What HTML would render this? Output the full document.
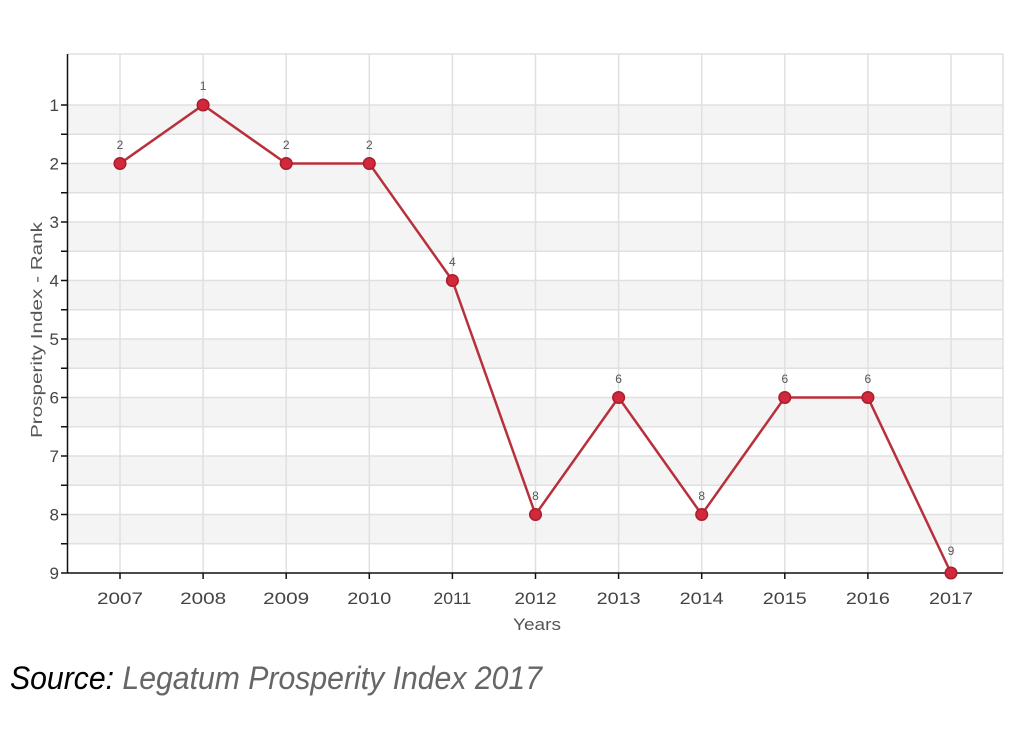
<!DOCTYPE html>
<html><head><meta charset="utf-8"><style>
html,body{margin:0;padding:0;background:#fff;}
svg{display:block;}
</style></head><body>
<svg width="1028" height="729" viewBox="0 0 1028 729" xmlns="http://www.w3.org/2000/svg" font-family="Liberation Sans, sans-serif">
<rect width="1028" height="729" fill="#fff"/>
<!-- bands -->
<g fill="#f4f4f4">
<rect x="68" y="105" width="935" height="29.25"/>
<rect x="68" y="163.5" width="935" height="29.25"/>
<rect x="68" y="222" width="935" height="29.25"/>
<rect x="68" y="280.5" width="935" height="29.25"/>
<rect x="68" y="339" width="935" height="29.25"/>
<rect x="68" y="397.5" width="935" height="29.25"/>
<rect x="68" y="456" width="935" height="29.25"/>
<rect x="68" y="514.5" width="935" height="29.25"/>
</g>
<!-- horizontal grid -->
<g stroke="#e0e0e0" stroke-width="1.5">
<line x1="68" y1="54" x2="1003" y2="54"/>
<line x1="68" y1="105" x2="1003" y2="105"/>
<line x1="68" y1="134.25" x2="1003" y2="134.25"/>
<line x1="68" y1="163.5" x2="1003" y2="163.5"/>
<line x1="68" y1="192.75" x2="1003" y2="192.75"/>
<line x1="68" y1="222" x2="1003" y2="222"/>
<line x1="68" y1="251.25" x2="1003" y2="251.25"/>
<line x1="68" y1="280.5" x2="1003" y2="280.5"/>
<line x1="68" y1="309.75" x2="1003" y2="309.75"/>
<line x1="68" y1="339" x2="1003" y2="339"/>
<line x1="68" y1="368.25" x2="1003" y2="368.25"/>
<line x1="68" y1="397.5" x2="1003" y2="397.5"/>
<line x1="68" y1="426.75" x2="1003" y2="426.75"/>
<line x1="68" y1="456" x2="1003" y2="456"/>
<line x1="68" y1="485.25" x2="1003" y2="485.25"/>
<line x1="68" y1="514.5" x2="1003" y2="514.5"/>
<line x1="68" y1="543.75" x2="1003" y2="543.75"/>
</g>
<!-- vertical grid -->
<g stroke="#e0e0e0" stroke-width="1.5">
<line x1="120" y1="54" x2="120" y2="573"/>
<line x1="203.1" y1="54" x2="203.1" y2="573"/>
<line x1="286.2" y1="54" x2="286.2" y2="573"/>
<line x1="369.3" y1="54" x2="369.3" y2="573"/>
<line x1="452.4" y1="54" x2="452.4" y2="573"/>
<line x1="535.5" y1="54" x2="535.5" y2="573"/>
<line x1="618.6" y1="54" x2="618.6" y2="573"/>
<line x1="701.7" y1="54" x2="701.7" y2="573"/>
<line x1="784.8" y1="54" x2="784.8" y2="573"/>
<line x1="867.9" y1="54" x2="867.9" y2="573"/>
<line x1="951" y1="54" x2="951" y2="573"/>
<line x1="1003" y1="54" x2="1003" y2="573"/>
</g>
<!-- axes -->
<g stroke="#111" stroke-width="1.5">
<line x1="67.5" y1="54" x2="67.5" y2="573"/>
<line x1="67" y1="573" x2="1003" y2="573"/>
<line x1="61" y1="105" x2="67" y2="105"/>
<line x1="61" y1="134.25" x2="67" y2="134.25"/>
<line x1="61" y1="163.5" x2="67" y2="163.5"/>
<line x1="61" y1="192.75" x2="67" y2="192.75"/>
<line x1="61" y1="222" x2="67" y2="222"/>
<line x1="61" y1="251.25" x2="67" y2="251.25"/>
<line x1="61" y1="280.5" x2="67" y2="280.5"/>
<line x1="61" y1="309.75" x2="67" y2="309.75"/>
<line x1="61" y1="339" x2="67" y2="339"/>
<line x1="61" y1="368.25" x2="67" y2="368.25"/>
<line x1="61" y1="397.5" x2="67" y2="397.5"/>
<line x1="61" y1="426.75" x2="67" y2="426.75"/>
<line x1="61" y1="456" x2="67" y2="456"/>
<line x1="61" y1="485.25" x2="67" y2="485.25"/>
<line x1="61" y1="514.5" x2="67" y2="514.5"/>
<line x1="61" y1="543.75" x2="67" y2="543.75"/>
<line x1="61" y1="573" x2="67" y2="573"/>
<line x1="120" y1="573" x2="120" y2="579"/>
<line x1="203.1" y1="573" x2="203.1" y2="579"/>
<line x1="286.2" y1="573" x2="286.2" y2="579"/>
<line x1="369.3" y1="573" x2="369.3" y2="579"/>
<line x1="452.4" y1="573" x2="452.4" y2="579"/>
<line x1="535.5" y1="573" x2="535.5" y2="579"/>
<line x1="618.6" y1="573" x2="618.6" y2="579"/>
<line x1="701.7" y1="573" x2="701.7" y2="579"/>
<line x1="784.8" y1="573" x2="784.8" y2="579"/>
<line x1="867.9" y1="573" x2="867.9" y2="579"/>
<line x1="951" y1="573" x2="951" y2="579"/>
</g>
<!-- y labels -->
<g font-size="17" fill="#444" text-anchor="end">
<text x="59" y="111">1</text>
<text x="59" y="169.5">2</text>
<text x="59" y="228">3</text>
<text x="59" y="286.5">4</text>
<text x="59" y="345">5</text>
<text x="59" y="403.5">6</text>
<text x="59" y="462">7</text>
<text x="59" y="520.5">8</text>
<text x="59" y="579">9</text>
</g>
<text transform="translate(42,330) rotate(-90)" font-size="16" fill="#555" text-anchor="middle" textLength="216" lengthAdjust="spacingAndGlyphs">Prosperity Index - Rank</text>
<!-- x labels -->
<g font-size="17" fill="#444" text-anchor="middle">
<text x="120" y="604" textLength="46" lengthAdjust="spacingAndGlyphs">2007</text>
<text x="203.1" y="604" textLength="46" lengthAdjust="spacingAndGlyphs">2008</text>
<text x="286.2" y="604" textLength="46" lengthAdjust="spacingAndGlyphs">2009</text>
<text x="369.3" y="604" textLength="44" lengthAdjust="spacingAndGlyphs">2010</text>
<text x="452.4" y="604" textLength="38" lengthAdjust="spacingAndGlyphs">2011</text>
<text x="535.5" y="604" textLength="42" lengthAdjust="spacingAndGlyphs">2012</text>
<text x="618.6" y="604" textLength="44" lengthAdjust="spacingAndGlyphs">2013</text>
<text x="701.7" y="604" textLength="44" lengthAdjust="spacingAndGlyphs">2014</text>
<text x="784.8" y="604" textLength="44" lengthAdjust="spacingAndGlyphs">2015</text>
<text x="867.9" y="604" textLength="44" lengthAdjust="spacingAndGlyphs">2016</text>
<text x="951" y="604" textLength="44" lengthAdjust="spacingAndGlyphs">2017</text>
</g>
<text x="537" y="630" font-size="17" fill="#555" text-anchor="middle" textLength="48" lengthAdjust="spacingAndGlyphs">Years</text>
<!-- series -->
<polyline fill="none" stroke="#b8303c" stroke-width="2.5" stroke-linejoin="round"
points="120,163.5 203.1,105 286.2,163.5 369.3,163.5 452.4,280.5 535.5,514.5 618.6,397.5 701.7,514.5 784.8,397.5 867.9,397.5 951,573"/>
<g fill="#d2283c" stroke="#a81f2c" stroke-width="1.5">
<circle cx="120" cy="163.5" r="5.8"/>
<circle cx="203.1" cy="105" r="5.8"/>
<circle cx="286.2" cy="163.5" r="5.8"/>
<circle cx="369.3" cy="163.5" r="5.8"/>
<circle cx="452.4" cy="280.5" r="5.8"/>
<circle cx="535.5" cy="514.5" r="5.8"/>
<circle cx="618.6" cy="397.5" r="5.8"/>
<circle cx="701.7" cy="514.5" r="5.8"/>
<circle cx="784.8" cy="397.5" r="5.8"/>
<circle cx="867.9" cy="397.5" r="5.8"/>
<circle cx="951" cy="573" r="5.8"/>
</g>
<!-- data labels -->
<g font-size="12" fill="#555" text-anchor="middle">
<text x="120" y="149">2</text>
<text x="203.1" y="90">1</text>
<text x="286.2" y="149">2</text>
<text x="369.3" y="149">2</text>
<text x="452.4" y="266">4</text>
<text x="535.5" y="500">8</text>
<text x="618.6" y="383">6</text>
<text x="701.7" y="500">8</text>
<text x="784.8" y="383">6</text>
<text x="867.9" y="383">6</text>
<text x="951" y="555">9</text>
</g>
<!-- source -->
<text x="10" y="689" font-size="32" font-style="italic" textLength="532" lengthAdjust="spacingAndGlyphs"><tspan fill="#000">Source:</tspan><tspan fill="#666"> Legatum Prosperity Index 2017</tspan></text>
</svg>
</body></html>
